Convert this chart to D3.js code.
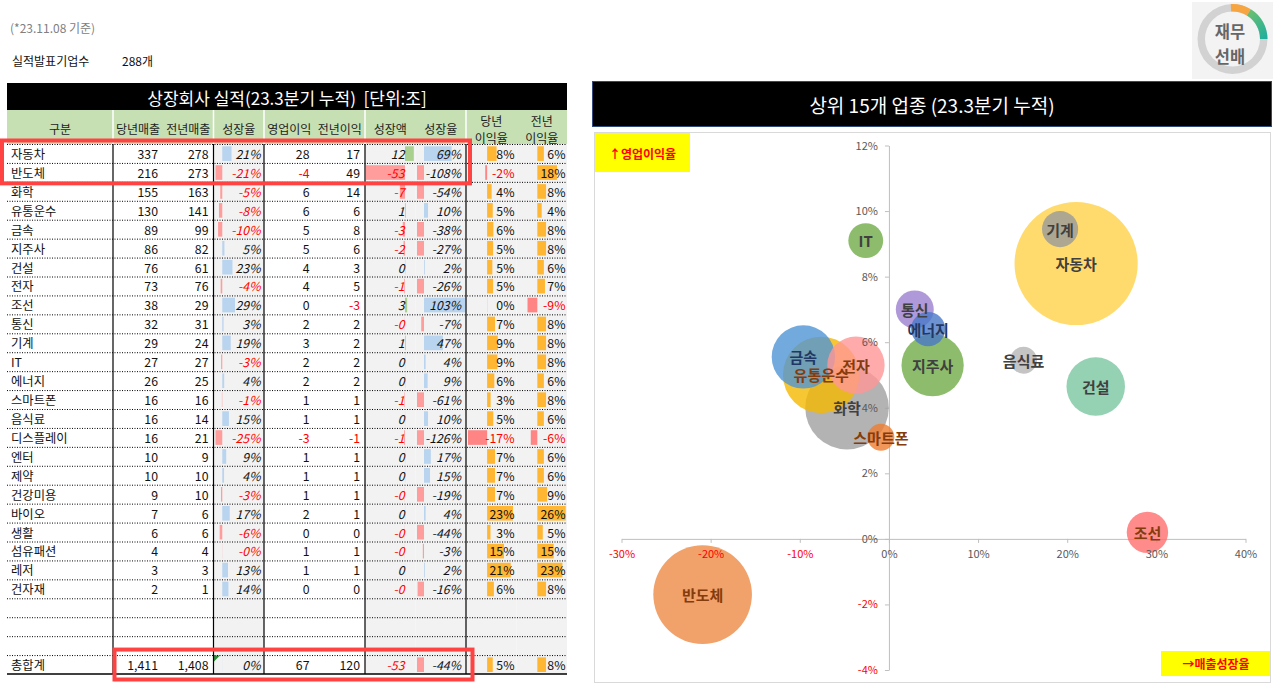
<!DOCTYPE html>
<html><head><meta charset="utf-8">
<script src="https://cdn.jsdelivr.net/npm/d3@7"></script>
<style>
body{margin:0;background:#fff;}
svg{display:block;font-family:"Noto Sans CJK KR","Noto Sans",sans-serif;}
</style></head><body>
<svg id="c" width="1277" height="688"></svg>
<script>
// ---------------- DATA ----------------
const noteText = "(*23.11.08 기준)";
const companyLabel = "실적발표기업수";
const companyCount = 288;
const tableTitle = "상장회사 실적(23.3분기 누적)  [단위:조]";
const chartTitle = "상위 15개 업종 (23.3분기 누적)";
const headers = [["구분"],["당년매출"],["전년매출"],["성장율"],["영업이익"],["전년이익"],["성장액"],["성장율"],["당년","이익율"],["전년","이익율"]];
const sectors = ["자동차","반도체","화학","유통운수","금속","지주사","건설","전자","조선","통신","기계","IT","에너지","스마트폰","음식료","디스플레이","엔터","제약","건강미용","바이오","생활","섬유패션","레저","건자재"];
const salesNow  = [337,216,155,130,89,86,76,73,38,32,29,27,26,16,16,16,10,10,9,7,6,4,3,2];
const salesPrev = [278,273,163,141,99,82,61,76,29,31,24,27,25,16,14,21,9,10,10,6,6,4,3,1];
const salesGrowth = [21.0,-20.9,-4.7,-7.6,-9.6,4.9,23.2,-3.7,29.0,2.9,19.2,-2.6,4.4,-0.9,15.1,-25,9,4,-3,17,-6,-0.3,13,14];
const opNow  = [28,-4,6,6,5,5,4,4,0,2,3,2,2,1,1,-3,1,1,1,2,0,1,1,0];
const opPrev = [17,49,14,6,8,6,3,5,-3,2,2,2,2,1,1,-1,1,1,1,1,0,1,1,0];
const opChange = [12,-53,-7,1,-3,-2,0.4,-1,3,-0.2,1,0.2,0.3,-0.7,0.2,-1.2,0.2,0.2,-0.3,0.2,-0.2,-0.2,0.1,-0.1];
const opGrowth = [69,-108,-54,10,-38,-27,2,-26,103,-7,47,4,9,-61,10,-126,17,15,-19,4,-44,-3,2,-16];
const marginNow  = [8.4,-1.7,4.0,5.0,5.55,5.3,4.65,5.3,0.2,7.0,9.45,9.1,6.4,3.1,5.45,-17,7,7,7,23,3,15,21,6];
const marginPrev = [6,18,8,4,8,8,6,7,-9,8,8,8,6,8,6,-6,6,6,9,26,5,15,23,8];
const totalRow = ["총합계",1411,1408,0.2,67,120,-53,-44,5,8];
const blankRows = 3;
const bubbleCount = 15;
const xTicks = [-30,-20,-10,0,10,20,30,40];
const yTicks = [-4,-2,0,2,4,6,8,10,12];
const yAxisLabel = "↑영업이익율";
const xAxisLabel = "→매출성장율";

// ---------------- STYLES ----------------
const bubbleColors = ["#ffd24a","#ed8a45","#a0a0a0","#f5b800","#4f95d6","#70ad47","#7ac5a0","#ff9696","#ff6e6e","#9c7fd0","#999999","#70ad47","#4a78c8","#ed7d31","#b5b5b5"];
const labelColors  = ["#404040","#843c0c","#404040","#843c0c","#1f3864","#404040","#404040","#843c0c","#843c0c","#404040","#404040","#404040","#1f3864","#843c0c","#404040"];
const BLUE="#b9d4ee", PINK="#ff9c9c", PINK2="#ff8585", GREEN="#a9d08e", ORANGE="#ffb632", GRAYBG="#f2f2f2";

const svg = d3.select("#c");

// ---------------- TOP NOTES ----------------
svg.append("text").attr("x",10).attr("y",27).attr("dominant-baseline","central")
  .attr("font-size",12).attr("fill","#808080").text(noteText);
svg.append("text").attr("x",12).attr("y",60).attr("dominant-baseline","central")
  .attr("font-size",12).attr("fill","#111").text(companyLabel);
svg.append("text").attr("x",122).attr("y",60).attr("dominant-baseline","central")
  .attr("font-size",12).attr("fill","#111").text(companyCount+"개");

// ---------------- LOGO ----------------
svg.append("rect").attr("x",1192).attr("y",2).attr("width",81).attr("height",77).attr("fill","#f3f3f3");
const defs = svg.append("defs");
const lg = defs.append("linearGradient").attr("id","lg").attr("gradientUnits","userSpaceOnUse")
  .attr("x1",8).attr("y1",-30).attr("x2",33).attr("y2",0);
lg.append("stop").attr("offset",0).attr("stop-color","#7cc464");
lg.append("stop").attr("offset",1).attr("stop-color","#1fae9e");
const logo = svg.append("g").attr("transform","translate(1232.5,39)");
const arc = d3.arc();
logo.append("path").attr("d",arc({innerRadius:27.5,outerRadius:35,startAngle:0,endAngle:2*Math.PI})).attr("fill","#d2d2d2");
logo.append("path").attr("d",arc({innerRadius:27.5,outerRadius:35,startAngle:-0.05,endAngle:0.55})).attr("fill","#f7a540");
logo.append("path").attr("d",arc({innerRadius:27.5,outerRadius:35,startAngle:0.55,endAngle:Math.PI/2})).attr("fill","url(#lg)");
logo.append("text").attr("x",-2.5).attr("y",-8).attr("text-anchor","middle").attr("dominant-baseline","central")
  .attr("font-size",16.5).attr("font-weight","bold").attr("fill","#666").text("재무");
logo.append("text").attr("x",-2.5).attr("y",16.5).attr("text-anchor","middle").attr("dominant-baseline","central")
  .attr("font-size",16.5).attr("font-weight","bold").attr("fill","#666").text("선배");

// ---------------- TABLE ----------------
const fmtInt = v => (v<0?"-":"") + d3.format(",")(Math.abs(Math.round(v)));
const fmtPct = v => fmtInt(v) + "%";
const TX0=7, TX1=567;
const nRows = sectors.length + blankRows + 1;
const rowY = d3.scaleBand().domain(d3.range(nRows)).range([144,674]);
const rh = rowY.bandwidth();

const columns = [
 {x0:7,    x1:113,   tx:11,    anchor:"start"},
 {x0:113,  x1:163,   tx:158,   fmt:fmtInt},
 {x0:163,  x1:213.5, tx:208.5, fmt:fmtInt},
 {x0:213.5,x1:264,   tx:260.5, fmt:fmtPct, red:true, italic:true, gray:true, bar:{dom:[-15.5,29], rng:[215.5,235], pos:BLUE, neg:PINK}},
 {x0:264,  x1:314.5, tx:309.5, fmt:fmtInt, red:true},
 {x0:314.5,x1:365,   tx:360,   fmt:fmtInt, red:true},
 {x0:365,  x1:415.5, tx:404.5, fmt:fmtInt, red:true, italic:true, gray:true, noTotalBar:true, bar:{dom:[-53,12], rng:[366,413.8], pos:GREEN, neg:PINK}},
 {x0:415.5,x1:466,   tx:461,   fmt:fmtPct, italic:true, gray:true, bar:{dom:[-17.5,103], rng:[417,465.3], pos:BLUE, neg:PINK}},
 {x0:466,  x1:516.5, tx:514.5, fmt:fmtPct, red:true, gray:true, bar:{dom:[-17,23], rng:[468,513], pos:ORANGE, neg:PINK2}},
 {x0:516.5,x1:567,   tx:565.5, fmt:fmtPct, red:true, gray:true, bar:{dom:[-9,26], rng:[527.5,565.7], pos:ORANGE, neg:PINK2}}
];
columns.forEach(c => { if (c.bar) c.scale = d3.scaleLinear().domain(c.bar.dom).range(c.bar.rng).clamp(true); });

// title bar
svg.append("rect").attr("x",TX0).attr("y",83).attr("width",TX1-TX0).attr("height",27).attr("fill","#000");
svg.append("text").attr("x",(TX0+TX1)/2).attr("y",97).attr("text-anchor","middle").attr("dominant-baseline","central")
  .attr("font-size",17).attr("fill","#fff").style("white-space","pre").text(tableTitle);
// header
svg.append("rect").attr("x",TX0).attr("y",110).attr("width",TX1-TX0).attr("height",34).attr("fill","#c6e0b4");
headers.forEach((h,i) => {
  const c = columns[i], cx = (c.x0+c.x1)/2;
  if (h.length===1) {
    svg.append("text").attr("x",cx).attr("y",128).attr("text-anchor","middle").attr("dominant-baseline","central")
      .attr("font-size",12).attr("fill","#222").text(h[0]);
  } else {
    h.forEach((t,j)=> svg.append("text").attr("x",cx).attr("y",j===0?120:137).attr("text-anchor","middle").attr("dominant-baseline","central")
      .attr("font-size",12).attr("fill","#222").text(t));
  }
});
[113,213.5,264,365,466].forEach(x => svg.append("line").attr("x1",x).attr("x2",x).attr("y1",110).attr("y2",144).attr("stroke","#fff").attr("stroke-width",1.5));

// gray column backgrounds
columns.filter(c=>c.gray).forEach(c => {
  svg.append("rect").attr("x",c.x0).attr("y",rowY(0)).attr("width",c.x1-c.x0).attr("height",rowY(nRows-1)+rh-rowY(0)).attr("fill",GRAYBG);
});

// rows
const rows = sectors.map((s,i)=>({idx:i, total:false, vals:[s,salesNow[i],salesPrev[i],salesGrowth[i],opNow[i],opPrev[i],opChange[i],opGrowth[i],marginNow[i],marginPrev[i]]}));
rows.push({idx:nRows-1, total:true, vals:totalRow});

const rowG = svg.append("g");
rows.forEach(r => {
  const y0 = rowY(r.idx), yc = y0 + rh/2;
  columns.forEach((c,ci) => {
    const v = r.vals[ci];
    if (c.bar && !(r.total && c.noTotalBar)) {
      const s = c.scale, xa = s(0), xb = s(v);
      if (Math.abs(xb-xa) > 0.05) {
        rowG.append("rect").attr("x",Math.min(xa,xb)).attr("y",y0+2.3).attr("width",Math.abs(xb-xa)).attr("height",rh-4.3)
          .attr("fill", v>=0 ? c.bar.pos : c.bar.neg);
      }
    }
    const t = rowG.append("text").attr("x",c.tx).attr("y",yc+0.5).attr("dominant-baseline","central")
      .attr("text-anchor", c.anchor||"end").attr("font-size",12.3)
      .attr("fill", (c.red && typeof v==="number" && v<0) ? "#ff0000" : "#111")
      .text(c.fmt ? c.fmt(v) : v);
    if (c.italic) t.attr("font-style","italic");
  });
});
// green indicator triangle in total growth cell
{
  const y0 = rowY(nRows-1);
  svg.append("path").attr("d",`M214,${y0+0.5}L220,${y0+0.5}L214,${y0+6.5}Z`).attr("fill","#2e8b3a");
}
// dotted row separators
for (let i=0;i<nRows;i++) {
  svg.append("line").attr("x1",TX0).attr("x2",TX1).attr("y1",rowY(i)+0.5).attr("y2",rowY(i)+0.5)
    .attr("stroke","#000").attr("stroke-width",1).attr("stroke-dasharray","1,1.5");
}
svg.append("line").attr("x1",TX0).attr("x2",TX1).attr("y1",674).attr("y2",674).attr("stroke","#000").attr("stroke-width",1.5);
[113,213.5,264,365,466].forEach(x => svg.append("line").attr("x1",x).attr("x2",x).attr("y1",144).attr("y2",674).attr("stroke","#000").attr("stroke-width",1.2));

// red highlight boxes
svg.append("rect").attr("x",2).attr("y",rowY(0)-3.5).attr("width",468).attr("height",rh*2+5)
  .attr("fill","none").attr("stroke","#ff4343").attr("stroke-width",4);
svg.append("rect").attr("x",114.5).attr("y",rowY(nRows-1)-5.5).attr("width",358).attr("height",rh+11)
  .attr("fill","none").attr("stroke","#ff4343").attr("stroke-width",4);

// ---------------- BUBBLE CHART ----------------
svg.append("rect").attr("x",592.5).attr("y",81.5).attr("width",679).attr("height",45).attr("fill","#000").attr("stroke","#2f4b7c");
svg.append("text").attr("x",932).attr("y",104.5).attr("text-anchor","middle").attr("dominant-baseline","central")
  .attr("font-size",19).attr("fill","#fff").text(chartTitle);
svg.append("rect").attr("x",594.5).attr("y",132.5).attr("width",676).attr("height",550).attr("fill","#fff").attr("stroke","#d9d9d9");

const bx = d3.scaleLinear().domain([-30,40]).range([621.5,1245.5]);
const by = d3.scaleLinear().domain([-4,12]).range([670,145.5]);
const br = d3.scaleSqrt().domain([0,337]).range([0,61.6]);

function styleAxis(g){
  g.selectAll(".domain").attr("stroke","#bfbfbf");
  g.selectAll(".tick line").attr("stroke","#bfbfbf");
  g.selectAll(".tick text").attr("font-size",11).attr("font-family",'"Noto Sans CJK KR","Noto Sans",sans-serif')
   .attr("fill", d => d<0 ? "#ff0000" : "#595959");
}
const xAxis = d3.axisBottom(bx).tickValues(xTicks).tickSize(4).tickSizeOuter(0).tickPadding(7).tickFormat(d=>d+"%");
const yAxis = d3.axisLeft(by).tickValues(yTicks).tickSize(4).tickSizeOuter(0).tickPadding(7).tickFormat(d=>d+"%");
// lines layer
const gxl = svg.append("g").attr("transform",`translate(0,${by(0)})`).call(xAxis).call(styleAxis);
const gyl = svg.append("g").attr("transform",`translate(${bx(0)},0)`).call(yAxis).call(styleAxis);
gxl.selectAll(".tick text").remove(); gyl.selectAll(".tick text").remove();

const bubbles = d3.range(bubbleCount).map(i => ({name:sectors[i], x:salesGrowth[i], y:marginNow[i], s:salesNow[i], i}));
svg.append("g").selectAll("circle").data(bubbles).join("circle")
  .attr("cx",d=>bx(d.x)).attr("cy",d=>by(d.y)).attr("r",d=>br(d.s))
  .attr("fill",d=>bubbleColors[d.i]).attr("fill-opacity",0.8);

// labels layer for axes
const gxt = svg.append("g").attr("transform",`translate(0,${by(0)})`).call(xAxis).call(styleAxis);
const gyt = svg.append("g").attr("transform",`translate(${bx(0)},0)`).call(yAxis).call(styleAxis);
[gxt,gyt].forEach(g=>{ g.select(".domain").remove(); g.selectAll(".tick line").remove(); });

svg.append("g").selectAll("text").data(bubbles).join("text")
  .attr("x",d=>bx(d.x)).attr("y",d=>by(d.y)).attr("text-anchor","middle").attr("dominant-baseline","central")
  .attr("font-size",15).attr("font-weight","bold").attr("fill",d=>labelColors[d.i]).text(d=>d.name);

// axis caption boxes
svg.append("rect").attr("x",595).attr("y",133).attr("width",95).attr("height",39).attr("fill","#ffff00");
svg.append("text").attr("x",642.5).attr("y",153).attr("text-anchor","middle").attr("dominant-baseline","central")
  .attr("font-size",12).attr("font-weight","bold").attr("fill","#ff0000").text(yAxisLabel);
svg.append("rect").attr("x",1161).attr("y",651).attr("width",109).attr("height",25).attr("fill","#ffff00");
svg.append("text").attr("x",1216).attr("y",663.5).attr("text-anchor","middle").attr("dominant-baseline","central")
  .attr("font-size",12).attr("font-weight","bold").attr("fill","#ff0000").text(xAxisLabel);
</script>
</body></html>
